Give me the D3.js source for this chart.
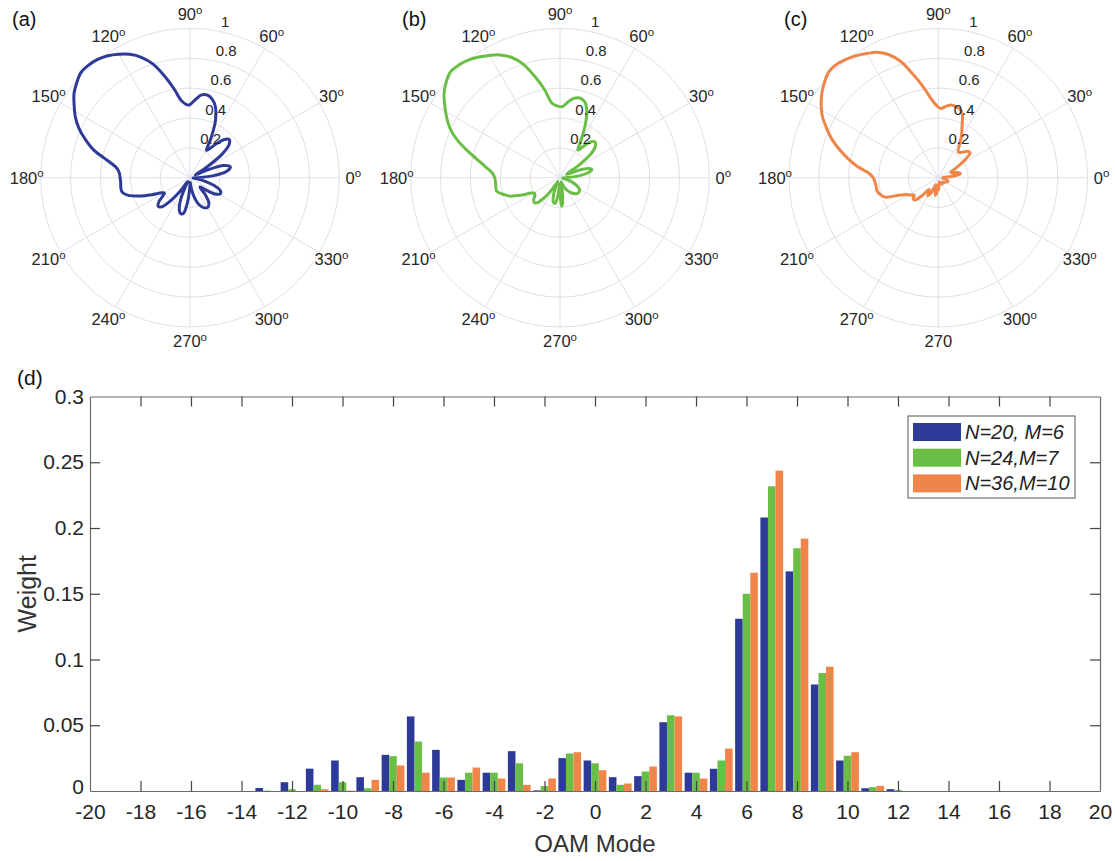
<!DOCTYPE html>
<html><head><meta charset="utf-8">
<script src="https://cdn.jsdelivr.net/npm/d3@7"></script>
<style>
body{margin:0;background:#fff;}
svg{display:block;}
text{font-family:"Liberation Sans",Arial,Helvetica,sans-serif;}
</style>
</head><body>
<svg id="chart" width="1115" height="861"></svg>
<script>
// ---------- Polar data ----------
const angleTicks = [0,30,60,90,120,150,180,210,240,270,300,330];
const angleLabelsAB = ["0°","30°","60°","90°","120°","150°","180°","210°","240°","270°","300°","330°"];
const angleLabelsC = ["0°","30°","60°","90°","120°","150°","180°","210°","270°","270","300°","330°"];
const radialTicks = [0.2,0.4,0.6,0.8,1];
const radialLabels = ["0.2","0.4","0.6","0.8","1"];
const panelLetters = ["(a)","(b)","(c)","(d)"];

const polarAnglesA = [0,5,10,15,20,24,28,32,36,40,44,48,52,56,59,62,66,70,74,78,82,86,91,96,100,104,108,112,116,120,124,128,132,136,140,144,148,152,156,160,164,168,172,176,180,184,188,192,196,200,204,208,211,214,218,222,226,230,234,238,242,246,250,254,257,260,264,268,272,277,282,287,292,297,302,307,312,317,322,327,332,337,342,347,352,356];
const polarRadiiA  = [0.05,0.16,0.25,0.28,0.24,0.13,0.04,0.12,0.26,0.34,0.366,0.345,0.29,0.235,0.214,0.30,0.42,0.50,0.545,0.565,0.56,0.525,0.487,0.515,0.60,0.70,0.80,0.87,0.92,0.955,0.985,1.005,1.015,1.015,0.99,0.96,0.915,0.87,0.815,0.745,0.67,0.57,0.50,0.475,0.468,0.465,0.468,0.465,0.43,0.36,0.28,0.215,0.20,0.22,0.265,0.287,0.27,0.20,0.11,0.03,0.05,0.14,0.21,0.245,0.25,0.24,0.17,0.08,0.03,0.07,0.13,0.18,0.21,0.228,0.23,0.21,0.15,0.09,0.13,0.20,0.23,0.22,0.17,0.10,0.04,0.02];

const polarAnglesB = [0,5,10,14,18,22,26,30,34,38,42,46,50,54,57,60,64,68,72,76,80,84,88,92,96,100,104,108,112,116,120,124,128,132,136,140,144,148,152,156,160,164,168,172,176,180,184,188,192,196,200,204,208,212,216,220,224,228,232,236,240,245,250,255,259,263,266,268,270,273,276,280,285,292,300,308,316,322,328,334,340,346,352,356];
const polarRadiiB  = [0.04,0.12,0.19,0.22,0.20,0.13,0.05,0.06,0.16,0.27,0.32,0.335,0.31,0.25,0.22,0.27,0.38,0.48,0.535,0.55,0.54,0.51,0.476,0.48,0.50,0.60,0.70,0.80,0.87,0.915,0.946,0.975,1.0,1.015,1.02,0.995,0.96,0.91,0.86,0.805,0.73,0.64,0.56,0.50,0.455,0.437,0.433,0.434,0.434,0.40,0.36,0.29,0.22,0.20,0.21,0.23,0.24,0.225,0.17,0.09,0.03,0.06,0.13,0.17,0.175,0.13,0.06,0.04,0.10,0.19,0.17,0.08,0.03,0.06,0.10,0.13,0.155,0.16,0.155,0.13,0.09,0.05,0.02,0.02];

const polarAnglesC = [0,5,10,14,18,22,26,30,34,38,42,46,50,53,57,61,65,69,72,76,80,84,88,92,96,100,104,108,112,116,120,124,128,132,136,140,144,148,152,156,160,164,168,172,176,180,184,188,192,196,200,204,208,212,216,220,224,228,232,236,240,244,248,252,256,260,264,268,272,276,282,290,300,310,320,330,340,348,355];
const polarRadiiC  = [0.03,0.09,0.15,0.14,0.10,0.09,0.11,0.15,0.22,0.27,0.265,0.24,0.22,0.22,0.26,0.32,0.375,0.45,0.48,0.49,0.495,0.48,0.464,0.49,0.545,0.63,0.72,0.82,0.89,0.935,0.96,0.985,1.005,1.02,1.02,0.995,0.964,0.925,0.88,0.82,0.76,0.69,0.62,0.55,0.47,0.435,0.425,0.42,0.42,0.405,0.38,0.29,0.24,0.22,0.20,0.22,0.215,0.16,0.10,0.11,0.14,0.12,0.07,0.05,0.08,0.12,0.10,0.06,0.08,0.04,0.03,0.04,0.05,0.04,0.05,0.06,0.07,0.05,0.03];

// ---------- Bar data ----------
const oamModes = [-13,-12,-11,-10,-9,-8,-7,-6,-5,-4,-3,-2,-1,0,1,2,3,4,5,6,7,8,9,10,11,12];
const seriesNames = ["N=20, M=6","N=24,M=7","N=36,M=10"];
const weightN20 = [0.0023,0.0067,0.017,0.0232,0.0105,0.0275,0.0567,0.0313,0.0085,0.0139,0.0303,0.0005,0.025,0.0232,0.0105,0.0113,0.0523,0.0139,0.0169,0.131,0.208,0.167,0.081,0.0232,0.0021,0.0014];
const weightN24 = [0.0003,0.0013,0.0047,0.0067,0.0021,0.0265,0.0376,0.0103,0.0139,0.0139,0.0211,0.0037,0.0285,0.0211,0.0047,0.0148,0.0576,0.0139,0.0232,0.150,0.2317,0.1846,0.0897,0.0268,0.0029,0.0007];
const weightN36 = [0,0,0.0013,0.0003,0.0085,0.0194,0.0139,0.0103,0.0178,0.0095,0.0047,0.0095,0.0295,0.0158,0.0057,0.0186,0.0567,0.0095,0.0323,0.166,0.2436,0.1919,0.0945,0.0295,0.0039,0];
const xTicks = d3.range(-20,21,2);
const yTicks = [0,0.05,0.1,0.15,0.2,0.25,0.3];
const yTickLabels = ["0","0.05","0.1","0.15","0.2","0.25","0.3"];

const colors = ["#2E3A98","#6BBE45","#EF8549"];
const textColor = "#262626";
const gridColor = "#dde0e8";

const svg = d3.select("#chart");
svg.append("rect").attr("width",1115).attr("height",861).attr("fill","#fff");

// ---------- Polar panels ----------
const R = 149.3;
function drawPolar(cx, cy, angs, rads, color, labels, letter, letterX){
  const g = svg.append("g").attr("transform",`translate(${cx},${cy})`);
  const r = d3.scaleLinear().domain([0,1]).range([0,R]);
  const toRad = d => d*Math.PI/180;
  g.selectAll("circle.grid").data(radialTicks).join("circle")
    .attr("r", d=>r(d)).attr("fill","none").attr("stroke",gridColor).attr("stroke-width",1);
  g.selectAll("line.spoke").data(angleTicks).join("line")
    .attr("x1",0).attr("y1",0)
    .attr("x2",d=>r(1)*Math.cos(toRad(d))).attr("y2",d=>-r(1)*Math.sin(toRad(d)))
    .attr("stroke",gridColor).attr("stroke-width",1);
  const pts = angs.map((a,i)=>({a:a, r:rads[i]}));
  const line = d3.lineRadial().angle(d=>toRad(90-d.a)).radius(d=>r(d.r))
    .curve(d3.curveCatmullRomClosed.alpha(0.5));
  g.append("path").attr("d", line(pts)).attr("fill","none")
    .attr("stroke",color).attr("stroke-width",3).attr("stroke-linejoin","round");
  g.selectAll("text.rl").data(radialTicks).join("text")
    .attr("x", d=>r(d)*Math.cos(toRad(80))+5)
    .attr("y", d=>-r(d)*Math.sin(toRad(80))-4)
    .attr("font-size",15).attr("fill",textColor)
    .text((d,i)=>radialLabels[i]);
  angleTicks.forEach((a,i)=>{
    const lab = labels[i];
    const rr = R + 14;
    const t = g.append("text")
      .attr("x", rr*Math.cos(toRad(a)))
      .attr("y", -rr*Math.sin(toRad(a)))
      .attr("dy","0.36em").attr("text-anchor","middle")
      .attr("font-size",16.5).attr("fill",textColor);
    if (lab.endsWith("°")) {
      t.append("tspan").text(lab.slice(0,-1));
      t.append("tspan").attr("font-size",11.5).attr("dy","-0.55em").text("o");
    } else {
      t.text(lab);
    }
  });
  svg.append("text").attr("x",letterX).attr("y",26)
    .attr("font-family","'Liberation Serif','Times New Roman',serif")
    .attr("font-size",20).attr("fill","#111").text(letter);
}
drawPolar(190,177.7,polarAnglesA,polarRadiiA,colors[0],angleLabelsAB,panelLetters[0],12);
drawPolar(560,177.7,polarAnglesB,polarRadiiB,colors[1],angleLabelsAB,panelLetters[1],402);
drawPolar(938.3,177.7,polarAnglesC,polarRadiiC,colors[2],angleLabelsC,panelLetters[2],784);

// ---------- Bar chart ----------
const pL=90, pR=1100, pT=396.5, pB=791;
const x = d3.scaleLinear().domain([-20,20]).range([pL,pR]);
const y = d3.scaleLinear().domain([0,0.3]).range([pB,pT]);
const groupW = (x(1)-x(0))*0.9;
const sub = d3.scaleBand().domain([0,1,2]).range([-groupW/2, groupW/2]).paddingInner(0);
const series = [weightN20, weightN24, weightN36];

const bars = svg.append("g");
series.forEach((vals,si)=>{
  bars.selectAll(`rect.s${si}`).data(oamModes.map((m,i)=>({m, v:vals[i]}))).join("rect")
    .attr("class",`s${si}`)
    .attr("x", d=>x(d.m)+sub(si))
    .attr("width", sub.bandwidth())
    .attr("y", d=>y(d.v))
    .attr("height", d=>y(0)-y(d.v))
    .attr("fill", colors[si]);
});

const axisColor = "#6a6a6a";
function styleAxis(g){
  g.selectAll(".domain").attr("stroke",axisColor).attr("stroke-width",1.2);
  g.selectAll(".tick line").attr("stroke","#444").attr("stroke-width",1.2);
  g.selectAll(".tick text").attr("fill",textColor)
    .attr("font-family","'Liberation Sans',Arial,sans-serif");
}
const gx = svg.append("g").attr("transform",`translate(0,${pB})`)
  .call(d3.axisBottom(x).tickValues(xTicks).tickFormat(d=>String(d)).tickSize(-10).tickSizeOuter(0).tickPadding(13));
gx.attr("font-size",21); styleAxis(gx);
const gy = svg.append("g").attr("transform",`translate(${pL},0)`)
  .call(d3.axisLeft(y).tickValues(yTicks).tickFormat((d,i)=>yTickLabels[i]).tickSize(-10).tickSizeOuter(0).tickPadding(6));
gy.attr("font-size",21); styleAxis(gy);
gy.selectAll(".tick text").filter(d=>d===0).attr("dy","0.1em");
const gt = svg.append("g").attr("transform",`translate(0,${pT})`)
  .call(d3.axisTop(x).tickValues(xTicks).tickFormat("").tickSize(-10).tickSizeOuter(0));
styleAxis(gt);
const gr = svg.append("g").attr("transform",`translate(${pR},0)`)
  .call(d3.axisRight(y).tickValues(yTicks).tickFormat("").tickSize(-10).tickSizeOuter(0));
styleAxis(gr);
[gx,gt].forEach(g=>g.selectAll(".tick line").filter(d=>d===-20||d===20).remove());
[gy,gr].forEach(g=>g.selectAll(".tick line").filter(d=>d===0||d===0.3).remove());

svg.append("text").attr("x",(pL+pR)/2).attr("y",852).attr("text-anchor","middle")
  .attr("font-size",24).attr("fill","#333").text("OAM Mode");
svg.append("text").attr("transform",`translate(36,${(pT+pB)/2}) rotate(-90)`)
  .attr("text-anchor","middle").attr("font-size",25).attr("fill","#333").text("Weight");
svg.append("text").attr("x",17).attr("y",385)
  .attr("font-family","'Liberation Serif','Times New Roman',serif")
  .attr("font-size",21).attr("fill","#111").text(panelLetters[3]);

const lg = svg.append("g").attr("transform","translate(908,416)");
lg.append("rect").attr("width",167).attr("height",82).attr("fill","#fff")
  .attr("stroke","#555").attr("stroke-width",1);
seriesNames.forEach((nm,i)=>{
  lg.append("rect").attr("x",5).attr("y",7+i*25.7).attr("width",48).attr("height",18).attr("fill",colors[i]);
  lg.append("text").attr("x",57).attr("y",7+i*25.7+16).attr("font-size",20)
    .attr("font-style","italic").attr("fill","#222").text(nm);
});
</script>
</body></html>
